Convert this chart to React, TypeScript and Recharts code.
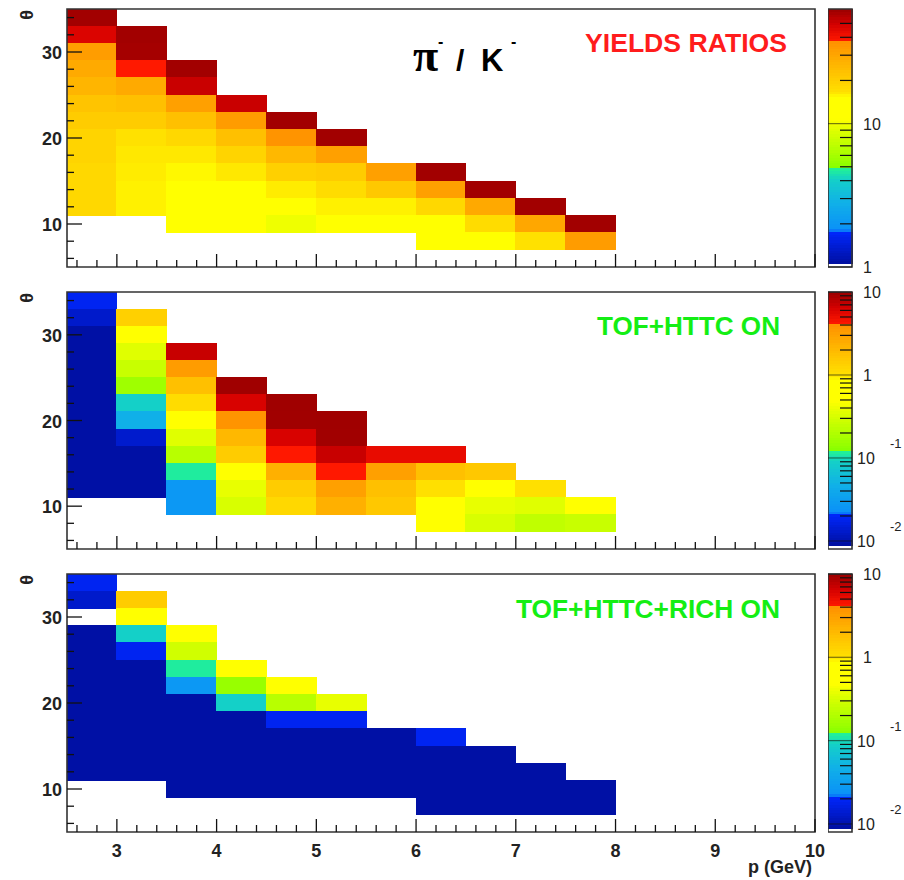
import React from 'react'
import { ScatterChart, Scatter, XAxis, YAxis, ReferenceArea } from 'recharts'

// bin centres of the 2D histograms
const pBins = [2.75, 3.25, 3.75, 4.25, 4.75, 5.25, 5.75, 6.25, 6.75, 7.25, 7.75]
const thetaBins = [34, 32, 30, 28, 26, 24, 22, 20, 18, 16, 14, 12, 10, 8]
const P_HALF = 0.25
const THETA_HALF = 1

const _ = null

// pi-/K- yields ratio; rows follow thetaBins, columns follow pBins
const yieldsRatio: (number | null)[][] = [
  [61, _, _, _, _, _, _, _, _, _, _],
  [47, 61, _, _, _, _, _, _, _, _, _],
  [33, 60, _, _, _, _, _, _, _, _, _],
  [29, 38, 61, _, _, _, _, _, _, _, _],
  [26, 29, 51.6, _, _, _, _, _, _, _, _],
  [22.4, 23.3, 32, 51.6, _, _, _, _, _, _, _],
  [20.6, 20.6, 23.3, 33.4, 61, _, _, _, _, _, _],
  [18.9, 16.7, 18.2, 23.3, 36.2, 61, _, _, _, _, _],
  [18.9, 16.4, 16.4, 18.9, 25.2, 32, _, _, _, _, _],
  [18.2, 16.2, 15.7, 16.4, 19.8, 20.6, 32, 61, _, _, _],
  [18.2, 16, 12.5, 12.5, 16.2, 17.4, 21.5, 32, 61, _, _],
  [18.2, 16, 12.4, 12.3, 12.2, 16, 16, 18.2, 29.2, 61, _],
  [_, _, 12.3, 12.2, 9.9, 12, 12.1, 12.3, 17.4, 29.8, 61],
  [_, _, _, _, _, _, _, 12.2, 12.3, 16.7, 33.4],
]

// ratio with TOF+HTTC
const tofHttc: (number | null)[][] = [
  [0.019, _, _, _, _, _, _, _, _, _, _],
  [0.0132, 1.36, _, _, _, _, _, _, _, _, _],
  [0.0092, 0.62, _, _, _, _, _, _, _, _, _],
  [0.0092, 0.353, 7.1, _, _, _, _, _, _, _, _],
  [0.0092, 0.267, 3.36, _, _, _, _, _, _, _, _],
  [0.0092, 0.164, 1.81, 9.57, _, _, _, _, _, _, _],
  [0.0092, 0.09, 1.1, 6.25, 9.57, _, _, _, _, _, _],
  [0.0092, 0.0476, 0.62, 3.85, 9.5, 9.57, _, _, _, _, _],
  [0.0092, 0.0135, 0.353, 2.07, 6.25, 9.5, _, _, _, _, _],
  [0.0092, 0.0092, 0.219, 1.46, 4.19, 7.1, 5.3, 5.3, _, _, _],
  [0.0092, 0.0092, 0.116, 0.62, 2.38, 4.19, 3.13, 1.81, 1.57, _, _],
  [0.0092, 0.0092, 0.0269, 0.385, 1.46, 3.13, 1.81, 1.02, 0.62, 1.02, _],
  [_, _, 0.0269, 0.326, 1.18, 2.38, 1.57, 0.62, 0.385, 0.353, 0.62],
  [_, _, _, _, _, _, _, 0.6, 0.326, 0.242, 0.267],
]

// ratio with TOF+HTTC+RICH
const tofHttcRich: (number | null)[][] = [
  [0.019, _, _, _, _, _, _, _, _, _, _],
  [0.0132, 1.46, _, _, _, _, _, _, _, _, _],
  [_, 0.62, _, _, _, _, _, _, _, _, _],
  [0.0092, 0.09, 0.62, _, _, _, _, _, _, _, _],
  [0.0092, 0.019, 0.295, _, _, _, _, _, _, _, _],
  [0.0092, 0.0092, 0.116, 0.62, _, _, _, _, _, _, _],
  [0.0092, 0.0092, 0.0269, 0.151, 0.62, _, _, _, _, _, _],
  [0.0092, 0.0092, 0.0092, 0.09, 0.219, 0.385, _, _, _, _, _],
  [0.0092, 0.0092, 0.0092, 0.0092, 0.019, 0.019, _, _, _, _, _],
  [0.0092, 0.0092, 0.0092, 0.0092, 0.0092, 0.0092, 0.0092, 0.019, _, _, _],
  [0.0092, 0.0092, 0.0092, 0.0092, 0.0092, 0.0092, 0.0092, 0.0092, 0.0092, _, _],
  [0.0092, 0.0092, 0.0092, 0.0092, 0.0092, 0.0092, 0.0092, 0.0092, 0.0092, 0.0092, _],
  [_, _, 0.0092, 0.0092, 0.0092, 0.0092, 0.0092, 0.0092, 0.0092, 0.0092, 0.0092],
  [_, _, _, _, _, _, _, 0.0092, 0.0092, 0.0092, 0.0092],
]

// z ranges of the colour scales
const ratioRange: [number, number] = [1, 63]
const effRange: [number, number] = [0.008, 10]

const ratioBarTicks = [1, 2, 3, 4, 5, 6, 7, 8, 9, 10, 20, 30, 40, 50]
const effBarTicks = [
  0.01, 0.02, 0.03, 0.04, 0.05, 0.06, 0.07, 0.08, 0.09,
  0.1, 0.2, 0.3, 0.4, 0.5, 0.6, 0.7, 0.8, 0.9,
  1, 2, 3, 4, 5, 6, 7, 8, 9, 10,
]
const ratioBarLabels = [
  { v: 1, base: '1' },
  { v: 10, base: '10' },
]
const effBarLabels = [
  { v: 10, base: '10' },
  { v: 1, base: '1' },
  { v: 0.1, base: '10', exp: '-1' },
  { v: 0.01, base: '10', exp: '-2' },
]

const xMajorLabels = [3, 4, 5, 6, 7, 8, 9, 10]
const thetaMajor = [10, 20, 30]
const xTickValues = Array.from({ length: 38 }, (_, i) => (26 + 2 * i) / 10)
const thetaTickValues = Array.from({ length: 15 }, (_, i) => 6 + 2 * i)

// rainbow palette, t from 0 (bottom) to 1 (top)
const paletteStops: [number, string][] = [
  [0.0, '#000c96'],
  [0.14, '#0028ff'],
  [0.143, '#0a90f8'],
  [0.25, '#10b0e8'],
  [0.34, '#14d0c8'],
  [0.38, '#20f098'],
  [0.386, '#88ff00'],
  [0.45, '#b0ff00'],
  [0.52, '#d8ff00'],
  [0.56, '#f4ff00'],
  [0.575, '#ffff00'],
  [0.66, '#ffff00'],
  [0.68, '#ffe000'],
  [0.76, '#ffc000'],
  [0.876, '#ff9000'],
  [0.878, '#ff1800'],
  [0.94, '#d40000'],
  [1.0, '#9a0000'],
]

const FONT = '"Liberation Sans", Arial, Helvetica, sans-serif'

const hexRgb = (h: string) => [1, 3, 5].map((i) => parseInt(h.slice(i, i + 2), 16))

function paletteAt(t: number) {
  const tt = Math.max(0, Math.min(1, t))
  for (let i = 1; i < paletteStops.length; i++) {
    const [t1, c1] = paletteStops[i]
    if (tt <= t1) {
      const [t0, c0] = paletteStops[i - 1]
      const f = t1 > t0 ? (tt - t0) / (t1 - t0) : 0
      const a = hexRgb(c0)
      const b = hexRgb(c1)
      const rgb = a.map((v, k) => Math.round(v + (b[k] - v) * f))
      return `rgb(${rgb[0]},${rgb[1]},${rgb[2]})`
    }
  }
  return paletteStops[paletteStops.length - 1][1]
}

const zColor = (v: number, [lo, hi]: [number, number]) => paletteAt(Math.log(v / lo) / Math.log(hi / lo))

function makeCells(grid: (number | null)[][]) {
  const cells: { p: number; theta: number; v: number }[] = []
  grid.forEach((row, r) =>
    row.forEach((v, c) => {
      if (v != null) cells.push({ p: pBins[c], theta: thetaBins[r], v })
    })
  )
  return cells
}

const renderThetaTick = (props: any) => {
  const { x, y, payload } = props
  const v = payload.value
  const major = thetaMajor.includes(v)
  return (
    <g>
      <line x1={x} x2={x + (major ? 15 : 7)} y1={y} y2={y} stroke="#111" strokeWidth={1.3} />
      {major && (
        <text x={x - 5} y={y + 7} textAnchor="end" fontFamily={FONT} fontWeight="bold" fontSize={18} fill="#222">
          {v}
        </text>
      )}
    </g>
  )
}

const makePTick = (showLabels: boolean) => (props: any) => {
  const { x, y, payload } = props
  const v = payload.value
  const major = xMajorLabels.includes(v)
  return (
    <g>
      <line x1={x} x2={x} y1={y} y2={y - (major ? 13 : 7)} stroke="#111" strokeWidth={1.3} />
      {showLabels && major && (
        <text x={x} y={y + 25} textAnchor="middle" fontFamily={FONT} fontWeight="bold" fontSize={18} fill="#222">
          {v}
        </text>
      )}
    </g>
  )
}

interface PanelProps {
  grid: (number | null)[][]
  range: [number, number]
  top: number
  plotH: number
  xAxisH: number
  xLabels: boolean
}

function HeatPanel({ grid, range, top, plotH, xAxisH, xLabels }: PanelProps) {
  const cells = makeCells(grid)
  return (
    <div style={{ position: 'absolute', left: 0, top }}>
      <ScatterChart width={830} height={9 + plotH + xAxisH} margin={{ top: 9, right: 15, bottom: 0, left: 0 }}>
        {cells.map((c, i) => {
          const color = zColor(c.v, range)
          return (
            <ReferenceArea
              key={i}
              x1={c.p - P_HALF}
              x2={c.p + P_HALF}
              y1={c.theta - THETA_HALF}
              y2={c.theta + THETA_HALF}
              fill={color}
              fillOpacity={1}
              stroke={color}
              strokeWidth={1}
              shapeRendering="crispEdges"
              ifOverflow="visible"
            />
          )
        })}
        <ReferenceArea x1={2.5} x2={10} y1={5} y2={35} fill="none" stroke="#333" strokeWidth={1.6} ifOverflow="visible" />
        <Scatter data={cells} isAnimationActive={false} shape={() => <g />} />
        <XAxis
          type="number"
          dataKey="p"
          domain={[2.5, 10]}
          allowDataOverflow
          ticks={xTickValues}
          interval={0}
          height={xAxisH}
          tickSize={0}
          tickMargin={0}
          tickLine={false}
          axisLine={false}
          tick={makePTick(xLabels)}
        />
        <YAxis
          type="number"
          dataKey="theta"
          domain={[5, 35]}
          allowDataOverflow
          ticks={thetaTickValues}
          interval={0}
          width={67}
          tickSize={0}
          tickMargin={0}
          tickLine={false}
          axisLine={false}
          tick={renderThetaTick}
        />
      </ScatterChart>
    </div>
  )
}

interface BarProps {
  range: [number, number]
  ticks: number[]
  labels: { v: number; base: string; exp?: string }[]
  top: number
  plotH: number
  xAxisH: number
}

function ColorBar({ range, ticks, labels, top, plotH, xAxisH }: BarProps) {
  const [lo, hi] = range
  const n = 96
  const t0 = 0.014
  const bands = Array.from({ length: n }, (_, i) => {
    const ta = t0 + ((1 - t0) * i) / n
    const tb = t0 + ((1 - t0) * (i + 1)) / n
    return { y1: lo * (hi / lo) ** ta, y2: lo * (hi / lo) ** tb, color: paletteAt((ta + tb) / 2) }
  })
  const renderTick = (props: any) => {
    const { x, y, payload } = props
    const v = payload.value
    const lg = Math.log10(v)
    const decade = Math.abs(lg - Math.round(lg)) < 1e-6
    const lab = labels.find((l) => Math.abs(l.v - v) < 1e-9)
    return (
      <g>
        <line x1={x - (decade ? 24 : 12)} x2={x} y1={y} y2={y} stroke="#111" strokeOpacity={decade ? 0.55 : 1} strokeWidth={1.2} />
        {lab && (
          <text x={x + (lab.exp ? 5 : 11)} y={y + 6} fontFamily={FONT} fontSize={16} fill="#222">
            {lab.base}
          </text>
        )}
        {lab && lab.exp && (
          <text x={x + 38} y={y - 10} fontFamily={FONT} fontSize={13} fill="#222">
            {lab.exp}
          </text>
        )}
      </g>
    )
  }
  return (
    <div style={{ position: 'absolute', left: 828, top }}>
      <ScatterChart width={76} height={9 + plotH + xAxisH} margin={{ top: 9, right: 0, bottom: 0, left: 0 }}>
        {bands.map((b, i) => (
          <ReferenceArea
            key={i}
            x1={0}
            x2={1}
            y1={b.y1}
            y2={b.y2}
            fill={b.color}
            fillOpacity={1}
            stroke={b.color}
            strokeWidth={1}
            shapeRendering="crispEdges"
            ifOverflow="visible"
          />
        ))}
        <ReferenceArea x1={0} x2={1} y1={lo} y2={hi} fill="none" stroke="#333" strokeWidth={1.6} ifOverflow="visible" />
        <Scatter data={[{ x: 0.5, v: lo }, { x: 0.5, v: hi }]} isAnimationActive={false} shape={() => <g />} />
        <XAxis type="number" dataKey="x" domain={[0, 1]} height={xAxisH} tick={false} tickLine={false} axisLine={false} />
        <YAxis
          type="number"
          dataKey="v"
          scale="log"
          domain={[lo, hi]}
          allowDataOverflow
          orientation="right"
          ticks={ticks}
          interval={0}
          width={52}
          tickSize={0}
          tickMargin={0}
          tickLine={false}
          axisLine={false}
          tick={renderTick}
        />
      </ScatterChart>
    </div>
  )
}

const panels = [
  { grid: yieldsRatio, range: ratioRange, ticks: ratioBarTicks, labels: ratioBarLabels, top: 0, plotH: 258, xAxisH: 13, xLabels: false },
  { grid: tofHttc, range: effRange, ticks: effBarTicks, labels: effBarLabels, top: 283, plotH: 257, xAxisH: 13, xLabels: false },
  { grid: tofHttcRich, range: effRange, ticks: effBarTicks, labels: effBarLabels, top: 565, plotH: 258, xAxisH: 46, xLabels: true },
]

export default function App() {
  return (
    <div style={{ position: 'absolute', left: 0, top: 0, width: 904, height: 880, background: '#fff', fontFamily: FONT }}>
      {panels.map((p, i) => (
        <React.Fragment key={i}>
          <HeatPanel grid={p.grid} range={p.range} top={p.top} plotH={p.plotH} xAxisH={p.xAxisH} xLabels={p.xLabels} />
          <ColorBar range={p.range} ticks={p.ticks} labels={p.labels} top={p.top} plotH={p.plotH} xAxisH={p.xAxisH} />
        </React.Fragment>
      ))}
      <svg width={904} height={880} style={{ position: 'absolute', left: 0, top: 0, pointerEvents: 'none' }}>
        {panels.map((p, i) => (
          <text key={i} transform={`translate(33,${p.top + 15}) rotate(-90)`} textAnchor="middle" fontFamily={FONT} fontWeight="bold" fontSize={18} fill="#222">
            θ
          </text>
        ))}
        <text x={413} y={71} fontFamily='"Liberation Serif", "DejaVu Serif", serif' fontWeight="bold" fontSize={46} fill="#000">π</text>
        <text x={438} y={47} fontFamily={FONT} fontWeight="bold" fontSize={16} fill="#000">-</text>
        <text x={456} y={71} fontFamily={FONT} fontWeight="bold" fontSize={30} fill="#000">/</text>
        <text x={481} y={71} fontFamily={FONT} fontWeight="bold" fontSize={31} fill="#000">K</text>
        <text x={511} y={47} fontFamily={FONT} fontWeight="bold" fontSize={16} fill="#000">-</text>
        <text x={585} y={52} fontFamily={FONT} fontWeight="bold" fontSize={26} fill="#ff1c1c" textLength={202} lengthAdjust="spacingAndGlyphs">
          YIELDS RATIOS
        </text>
        <text x={597} y={335} fontFamily={FONT} fontWeight="bold" fontSize={26} fill="#14ee14" textLength={183} lengthAdjust="spacingAndGlyphs">
          TOF+HTTC ON
        </text>
        <text x={516} y={618} fontFamily={FONT} fontWeight="bold" fontSize={26} fill="#14ee14" textLength={264} lengthAdjust="spacingAndGlyphs">
          TOF+HTTC+RICH ON
        </text>
        <text x={812} y={873} textAnchor="end" fontFamily={FONT} fontWeight="bold" fontSize={18} fill="#222">
          p (GeV)
        </text>
      </svg>
    </div>
  )
}
